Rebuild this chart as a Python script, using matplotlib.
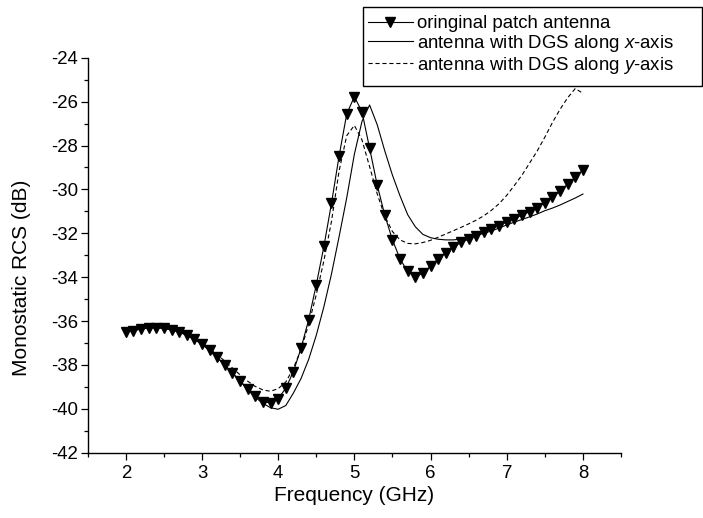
import numpy as np
import matplotlib
matplotlib.use("Agg")
import matplotlib.pyplot as plt
from matplotlib.patches import Rectangle
from matplotlib.ticker import MultipleLocator

plt.rcParams['font.family'] = ['Liberation Sans', 'DejaVu Sans']
plt.rcParams['axes.unicode_minus'] = False
plt.rcParams['mathtext.fontset'] = 'custom'
plt.rcParams['mathtext.rm'] = 'Liberation Sans'
plt.rcParams['mathtext.it'] = 'Liberation Sans:italic'
plt.rcParams['lines.scale_dashes'] = False

freq = [round(2.0 + 0.1 * i, 1) for i in range(61)]

original = [-36.51, -36.43, -36.36, -36.31, -36.30, -36.32, -36.40, -36.49, -36.64, -36.83,
            -37.04, -37.34, -37.65, -38.01, -38.37, -38.72, -39.10, -39.43, -39.67, -39.73,
            -39.54, -39.06, -38.30, -37.24, -35.94, -34.35, -32.60, -30.63, -28.47, -26.56,
            -25.77, -26.46, -28.12, -29.80, -31.18, -32.30, -33.17, -33.74, -33.97, -33.82,
            -33.49, -33.17, -32.88, -32.63, -32.41, -32.27, -32.12, -31.95, -31.80, -31.65,
            -31.49, -31.34, -31.16, -31.01, -30.83, -30.60, -30.36, -30.08, -29.76, -29.44,
            -29.11]

dgs_x = [-36.51, -36.43, -36.36, -36.31, -36.30, -36.33, -36.40, -36.50, -36.65, -36.84,
         -37.06, -37.35, -37.66, -38.02, -38.38, -38.74, -39.12, -39.48, -39.75, -39.95,
         -40.02, -39.85, -39.28, -38.62, -37.75, -36.65, -35.35, -33.85, -32.15, -30.38,
         -28.40, -26.90, -26.15, -27.05, -28.25, -29.35, -30.30, -31.15, -31.70, -32.05,
         -32.20, -32.27, -32.30, -32.30, -32.26, -32.19, -32.10, -32.00, -31.89, -31.76,
         -31.62, -31.49, -31.37, -31.25, -31.12, -30.97, -30.85, -30.71, -30.55, -30.39,
         -30.21]

dgs_y = [-36.51, -36.43, -36.36, -36.31, -36.30, -36.32, -36.39, -36.48, -36.62, -36.79,
         -36.99, -37.24, -37.52, -37.83, -38.14, -38.45, -38.74, -38.98, -39.14, -39.20,
         -39.08, -38.78, -38.15, -37.30, -36.15, -34.80, -33.25, -31.45, -29.15, -27.55,
         -27.08, -27.74, -28.96, -30.20, -31.22, -31.92, -32.30, -32.46, -32.48, -32.42,
         -32.32, -32.18, -32.03, -31.88, -31.73, -31.57, -31.40, -31.20, -30.95, -30.65,
         -30.27, -29.82, -29.35, -28.80, -28.25, -27.62, -26.95, -26.35, -25.82, -25.40,
         -25.62]

labels = ['oringinal patch antenna',
          r'antenna with DGS along $\mathit{x}$-axis',
          r'antenna with DGS along $\mathit{y}$-axis']

W, H = 703, 518
fig = plt.figure(figsize=(W / 100, H / 100), dpi=100)
ax_left, ax_right, ax_top, ax_bot = 87.7, 621.0, 57.8, 452.7
ax = fig.add_axes([ax_left / W, 1 - ax_bot / H, (ax_right - ax_left) / W, (ax_bot - ax_top) / H])

fs = 13.4
fs_lab = 15.0
l1, = ax.plot(freq, original, color='black', lw=0.8, marker='v', ms=6.5, mfc='black', mec='black')
l2, = ax.plot(freq, dgs_x, color='black', lw=0.8)
l3, = ax.plot(freq, dgs_y, color='black', lw=0.8, dashes=(3, 2))

ax.set_xlim(1.5, 8.5)
ax.set_ylim(-42, -24)
ax.xaxis.set_major_locator(MultipleLocator(1))
ax.xaxis.set_minor_locator(MultipleLocator(0.5))
ax.yaxis.set_major_locator(MultipleLocator(2))
ax.yaxis.set_minor_locator(MultipleLocator(1))
for s in ['top', 'right']:
    ax.spines[s].set_visible(False)
for s in ['left', 'bottom']:
    ax.spines[s].set_linewidth(1.0)
ax.tick_params(axis='x', which='major', pad=4)
ax.tick_params(axis='y', which='major', pad=2)
ax.tick_params(which='major', direction='out', length=5, width=0.9, labelsize=fs)
ax.tick_params(which='minor', direction='out', length=3, width=0.9)

ax.set_xlabel('Frequency (GHz)', fontsize=fs_lab, labelpad=3)
ax.set_ylabel('Monostatic RCS (dB)', fontsize=fs_lab)
ax.yaxis.set_label_coords((31 - ax_left) / (ax_right - ax_left), 0.442)

rect = Rectangle((363 / W, 1 - 86 / H), (702 - 363) / W, (86 - 6.7) / H,
                 transform=fig.transFigure, facecolor='white', edgecolor='black',
                 lw=1.0, zorder=3)
fig.patches.append(rect)

fig.legend([l1, l2, l3], labels, loc='upper left', bbox_to_anchor=(368 / W, 1 - 15 / H),
           frameon=False, fontsize=fs, handlelength=2.4, handletextpad=0.25,
           labelspacing=0.05, borderpad=0, borderaxespad=0, numpoints=1)

fig.savefig('out.png', dpi=100)
